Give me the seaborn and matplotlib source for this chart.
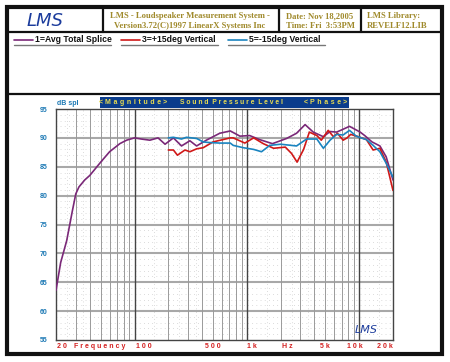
import matplotlib
matplotlib.use("Agg")
import matplotlib.pyplot as plt
from matplotlib.lines import Line2D
from matplotlib.patches import Rectangle
import numpy as np
import pandas as pd
import seaborn as sns

# curve data (Hz, dB SPL)
purple_hz = [20, 22, 24.9, 28, 30, 32, 36, 40, 50, 60, 74, 85, 100, 115, 137, 162, 187, 222, 262,
             311, 357, 436, 574, 712, 868, 1060, 1300, 1690, 2260, 2770, 3300, 3900, 4800, 5500,
             6300, 7200, 8200, 10200, 11200, 13000, 15300, 17400, 20000]
purple_db = [63.6, 68.4, 72.2, 77.4, 80.3, 81.5, 82.7, 83.5, 85.8, 87.6, 89.0, 89.6, 90.0, 89.8, 89.6,
             90.0, 88.9, 90.0, 88.6, 89.5, 88.6, 89.6, 90.8, 91.2, 90.3, 90.4, 89.7, 89.0, 89.9,
             90.8, 92.3, 91.0, 90.2, 91.1, 91.0, 91.5, 92.0, 91.0, 90.4, 89.3, 88.6, 86.7, 82.7]

red_hz = [200, 222, 241, 281, 311, 357, 409, 500, 712, 756, 960, 1150, 1400, 1730, 2200, 2500,
          2800, 3200, 3600, 4200, 4600, 5300, 5900, 6400, 7200, 7800, 8400, 9500, 11600, 13300,
          15300, 17400, 20000]
red_db = [87.9, 87.9, 87.0, 87.9, 87.6, 88.1, 88.3, 89.3, 90.0, 90.0, 89.1, 90.0, 89.0, 88.2, 88.4,
          87.3, 85.8, 88.0, 91.0, 90.4, 89.6, 91.3, 90.2, 90.8, 89.6, 90.0, 90.6, 90.3, 89.7, 87.9,
          88.2, 85.8, 80.9]

blue_hz = [200, 222, 262, 290, 357, 409, 460, 574, 712, 756, 929, 1150, 1350, 1600, 2000, 2770,
           3400, 4200, 4800, 5500, 6300, 7200, 8200, 9400, 11600, 13300, 15300, 17400, 20000]
blue_db = [90.0, 90.1, 89.8, 90.1, 89.9, 89.3, 89.2, 89.1, 89.1, 88.7, 88.3, 88.0, 87.6, 88.7, 88.9,
           88.6, 89.8, 89.8, 88.2, 89.6, 90.6, 90.5, 91.3, 90.3, 89.7, 88.7, 87.6, 85.6, 83.2]

curve_names = ["1=Avg Total Splice", "3=+15deg Vertical", "5=-15deg Vertical"]
curve_colors = ["#7a2878", "#d01818", "#1a84c0"]

y_ticks = [55, 60, 65, 70, 75, 80, 85, 90, 95]
x_labels = ["20", "Frequency", "100", "500", "1k", "Hz", "5k", "10k", "20k"]
x_label_pos = [20.5, 49, 103, 500, 1000, 2300, 5000, 9200, 20000]
x_label_ha = ["left", "center", "left", "center", "left", "center", "center", "center", "right"]

header_title = ["LMS - Loudspeaker Measurement System -", "Version3.72(C)1997 LinearX Systems Inc"]
header_date = ["Date: Nov 18,2005", "Time: Fri  3:53PM"]
header_lib = ["LMS Library:", "REVELF12.LIB"]

GOLD = "#a08a2c"
YBLUE = "#1b78b4"
XRED = "#d42020"
BANNER = "#0a3c8c"
BANNER_TXT = "#e8dc50"

sns.set_style("white")
plt.rcParams["font.family"] = ["Liberation Sans", "DejaVu Sans"]

W, H = 450, 362


def fx(x):
    return x / W


def fy(y):
    return 1 - y / H


def spaced(s, sep=" "):
    return sep.join(s)


df = pd.concat([
    pd.DataFrame({"hz": purple_hz, "db": purple_db, "curve": curve_names[0]}),
    pd.DataFrame({"hz": red_hz, "db": red_db, "curve": curve_names[1]}),
    pd.DataFrame({"hz": blue_hz, "db": blue_db, "curve": curve_names[2]}),
])

fig = plt.figure(figsize=(4.5, 3.62), dpi=100)
fig.patch.set_facecolor("white")

# outer frame and separators
fig.add_artist(Rectangle((fx(7), fy(354)), fx(442) - fx(7), fy(7) - fy(354), fill=False,
                         edgecolor="#111111", linewidth=3.0, transform=fig.transFigure))
for yy in [32, 94]:
    fig.add_artist(Line2D([fx(7), fx(442)], [fy(yy), fy(yy)], color="#111111", lw=1.6))
for xx in [103, 279, 361]:
    fig.add_artist(Line2D([fx(xx), fx(xx)], [fy(8), fy(32)], color="#111111", lw=1.6))

# header
fig.text(fx(45), fy(21), "LMS", color="#1c3c9c", fontsize=13, style="italic",
         family="DejaVu Sans", weight="light", ha="center", va="center")
fig.text(fx(190), fy(16), header_title[0], color=GOLD, fontsize=6.2, weight="bold",
         family="Liberation Serif", ha="center", va="center")
fig.text(fx(190), fy(26), header_title[1], color=GOLD, fontsize=6.2, weight="bold",
         family="Liberation Serif", ha="center", va="center")
fig.text(fx(320), fy(16), header_date[0], color=GOLD, fontsize=6.2, weight="bold",
         family="Liberation Serif", ha="center", va="center")
fig.text(fx(320), fy(26), header_date[1], color=GOLD, fontsize=6.2, weight="bold",
         family="Liberation Serif", ha="center", va="center")
fig.text(fx(367), fy(16), header_lib[0], color=GOLD, fontsize=6.2, weight="bold",
         family="Liberation Serif", ha="left", va="center")
fig.text(fx(367), fy(26), header_lib[1], color=GOLD, fontsize=6.2, weight="bold",
         family="Liberation Serif", ha="left", va="center")

# legend row
leg_x = [(14, 35, 111), (121, 142, 218), (228, 249, 325)]
for (x0, xt, x1), name, col in zip(leg_x, curve_names, curve_colors):
    fig.add_artist(Line2D([fx(x0), fx(xt - 2)], [fy(40), fy(40)], color=col, lw=1.2))
    fig.text(fx(xt), fy(40), name, color="#111111", fontsize=6.2, weight="bold",
             ha="left", va="center")
    fig.add_artist(Line2D([fx(x0), fx(x1)], [fy(44.5), fy(44.5)], color="#777777", lw=1.0))

# banner above the plot
fig.add_artist(Rectangle((fx(100), fy(108)), fx(349) - fx(100), fy(97) - fy(108),
                         facecolor=BANNER, edgecolor="none", transform=fig.transFigure))
fig.text(fx(133), fy(102.5), "< " + spaced("Magnitude", " \u200a") + " >", color=BANNER_TXT,
         fontsize=5.0, weight="bold", ha="center", va="center")
fig.text(fx(231), fy(102.5), spaced("Sound") + "  " + spaced("Pressure") + "  " + spaced("Level"),
         color=BANNER_TXT, fontsize=4.9, weight="bold", ha="center", va="center")
fig.text(fx(326), fy(102.5), "< " + spaced("Phase", " \u200a") + " >", color=BANNER_TXT,
         fontsize=5.0, weight="bold", ha="center", va="center")
fig.text(fx(57), fy(103.5), "dB spl", color=YBLUE, fontsize=5, weight="bold",
         ha="left", va="center")

# plot area
ax = fig.add_axes([fx(56), fy(340), fx(393) - fx(56), fy(109) - fy(340)])
ax.set_xscale("log")
ax.set_xlim(20, 20000)
ax.set_ylim(55, 95)

# grid
for d in range(56, 95):
    if d % 5:
        ax.axhline(d, color="#bbbbbb", lw=0.5, ls=(0, (1, 5)), zorder=0)
for dec in [10, 100, 1000, 10000]:
    for m in [1.5, 2.5, 3.5]:
        f = m * dec
        if 20 < f < 20000:
            ax.axvline(f, color="#bbbbbb", lw=0.5, ls=(0, (1, 4)), zorder=0)
for d in y_ticks[1:-1]:
    ax.axhline(d, color="#a8a8a8", lw=1.5, zorder=1)
for dec in [10, 100, 1000, 10000]:
    for m in range(2, 10):
        f = m * dec
        if 20 < f < 20000:
            ax.axvline(f, color="#9a9a9a", lw=0.7, zorder=1)
for f in [100, 1000, 10000]:
    ax.axvline(f, color="#444444", lw=1.0, zorder=1)

sns.lineplot(data=df, x="hz", y="db", hue="curve", palette=curve_colors, lw=1.2,
             legend=False, ax=ax, zorder=3)

ax.set_xlabel("")
ax.set_ylabel("")
ax.set_xticks([])
ax.set_xticks([], minor=True)
ax.set_yticks(y_ticks)
ax.set_yticklabels([str(t) for t in y_ticks], color=YBLUE, fontsize=5, weight="bold")
ax.set_yticks(range(55, 96), minor=True)
ax.tick_params(axis="y", which="major", length=0, pad=6)
ax.tick_params(axis="y", which="minor", direction="in", length=2.5, color="#444444", width=0.6)
for s in ax.spines.values():
    s.set_color("#444444")
    s.set_linewidth(1.0)

for lab, pos, ha in zip(x_labels, x_label_pos, x_label_ha):
    txt = spaced(lab) if len(lab) > 1 else lab
    ax.text(pos, -0.027, txt, transform=ax.get_xaxis_transform(), color=XRED, fontsize=5,
            weight="bold", ha=ha, va="center")

ax.text(0.955, 0.045, "LMS", transform=ax.transAxes, color="#1c3c9c", fontsize=8,
        style="italic", family="DejaVu Sans", weight="light", ha="right", va="center")

fig.savefig("out.png", dpi=100)
